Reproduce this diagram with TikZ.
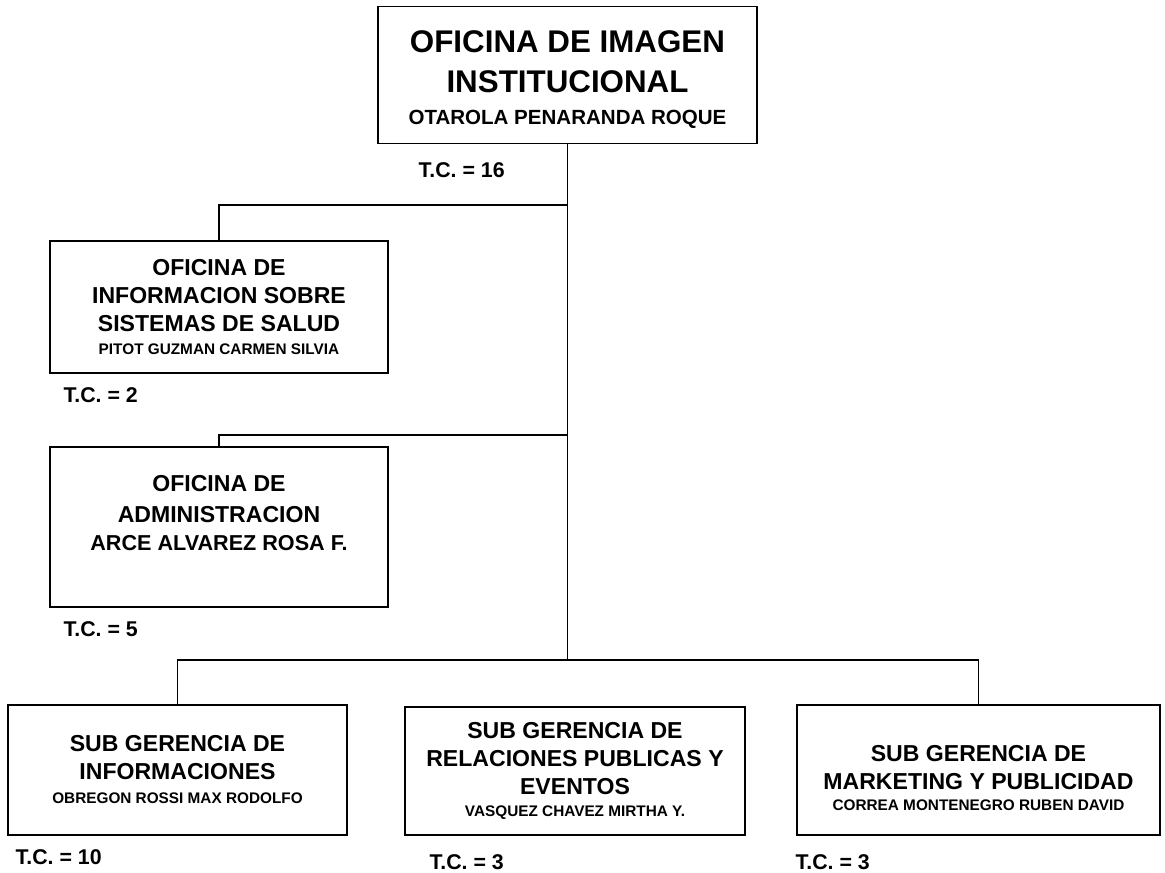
\documentclass[tikz,border=0pt]{standalone}
\usepackage{fontspec}
\setmainfont{Liberation Sans}

\tikzset{
  caja/.style={draw, line width=1.2pt, align=center, inner sep=0pt, font=\bfseries\titulo},
  linea/.style={line width=0.9pt},
  tc/.style={anchor=west, font=\bfseries\fontsize{16}{18}\selectfont}
}
\newcommand{\titulo}{\fontsize{17.3}{21}\selectfont}
\newcommand{\nombre}{\fontsize{11.5}{13}\selectfont}

\begin{document}
\begin{tikzpicture}[x=0.75pt,y=-0.75pt]
        \useasboundingbox (0,0) rectangle (1165,873);

        \node[caja, minimum width=379*0.75pt, minimum height=137*0.75pt,
              font=\bfseries\fontsize{23.5}{30}\selectfont] (jefe) at (567.5,75)
          {\rule{0pt}{24pt}OFICINA DE IMAGEN\\ INSTITUCIONAL\\[-6pt] \fontsize{15.4}{18}\selectfont OTAROLA PENARANDA ROQUE};
        \node[caja, minimum width=338*0.75pt, minimum height=132*0.75pt] (ofi1) at (219,307)
          {OFICINA DE\\ INFORMACION SOBRE\\ SISTEMAS DE SALUD\\[-4pt] \nombre PITOT GUZMAN CARMEN SILVIA};
        \node[caja, minimum width=338*0.75pt, minimum height=160*0.75pt] (ofi2) at (219,527)
          {OFICINA DE\\[2pt] ADMINISTRACION\\ \fontsize{16.2}{19}\selectfont ARCE ALVAREZ ROSA F.\\ \mbox{}};

        \node[caja, minimum width=339*0.75pt, minimum height=130*0.75pt] (sg1) at (177.5,770)
          {SUB GERENCIA DE\\ INFORMACIONES\\[-3pt] \nombre OBREGON ROSSI MAX RODOLFO};
        \node[caja, minimum width=340*0.75pt, minimum height=128*0.75pt] (sg2) at (575,771)
          {SUB GERENCIA DE\\ RELACIONES PUBLICAS Y\\ EVENTOS\\[-5pt] \nombre VASQUEZ CHAVEZ MIRTHA Y.};
        \node[caja, minimum width=363*0.75pt, minimum height=130*0.75pt] (sg3) at (978.5,770)
          {\rule{0pt}{24pt}SUB GERENCIA DE\\ MARKETING Y PUBLICIDAD\\[-5pt] \nombre CORREA MONTENEGRO RUBEN DAVID};

        % ramas
        \coordinate (r1) at (567.5,205);
        \coordinate (r2) at (567.5,435);
        \coordinate (r3) at (567.5,660);
        \draw[linea] (jefe.south) -- (r3);
        \draw[linea] (r1) -| (ofi1.north);
        \draw[linea] (r2) -| (ofi2.north);
        \draw[linea] (sg1.north) |- (r3) -| (sg3.north);

        \node[tc] (tc0) at (414,170) {T.C. = 16};
        \node[tc] (tc1) at (59,395) {T.C. = 2};
        \node[tc] (tc2) at (59,629) {T.C. = 5};
        \node[tc] (tc3) at (11,857) {T.C. = 10};
        \node[tc] (tc4) at (425,862) {T.C. = 3};
        \node[tc] (tc5) at (791,862) {T.C. = 3};
      \end{tikzpicture}
\end{document}
